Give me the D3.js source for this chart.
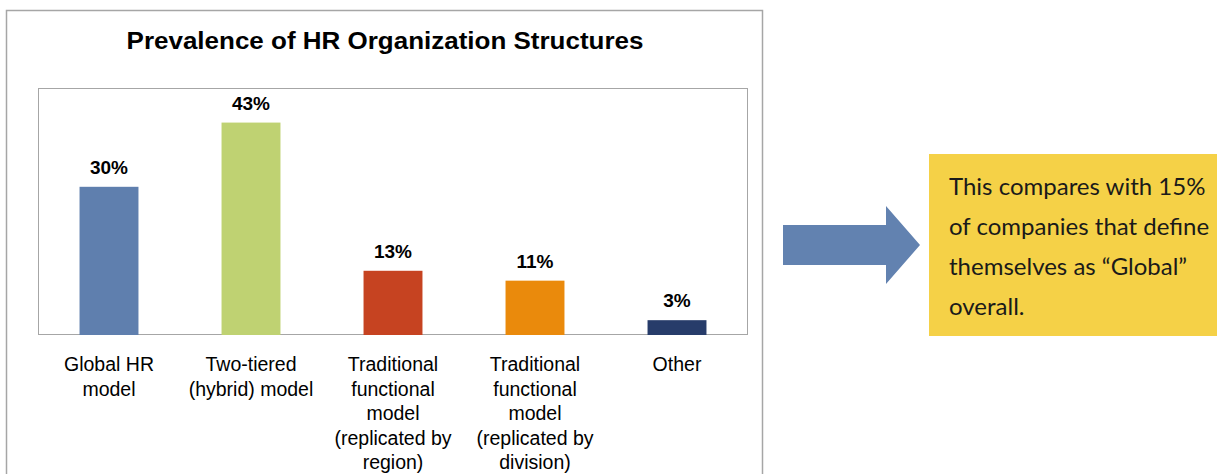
<!DOCTYPE html>
<html><head><meta charset="utf-8">
<script src="https://cdn.jsdelivr.net/npm/d3@7"></script>
<style>body{margin:0;background:#fff}svg{display:block}</style>
</head><body>
<script>
const categories = [
  ["Global HR", "model"],
  ["Two-tiered", "(hybrid) model"],
  ["Traditional", "functional", "model", "(replicated by", "region)"],
  ["Traditional", "functional", "model", "(replicated by", "division)"],
  ["Other"]
];
const values = [30, 43, 13, 11, 3];
const colors = ["#5f7fae", "#bfd272", "#c64321", "#ea8a0c", "#273c6a"];
const calloutLines = ["This compares with 15%", "of companies that define", "themselves as \u201cGlobal\u201d", "overall."];

const W = 1217, H = 474;
const svg = d3.select("body").append("svg").attr("width", W).attr("height", H);

// outer frame
svg.append("rect").attr("x", 6.5).attr("y", 10.5).attr("width", 756).attr("height", 480)
  .attr("fill", "#fff").attr("stroke", "#a6a6a6").attr("stroke-width", 1.5);

svg.append("text").attr("text-anchor", "middle")
  .attr("transform", "translate(385,48.5) scale(1.13,1)")
  .attr("font-family", "Liberation Sans, Arial, sans-serif").attr("font-weight", "bold")
  .attr("font-size", 23).attr("fill", "#000").text("Prevalence of HR Organization Structures");

const plot = {l: 38, t: 88, r: 748, b: 335};
const x = d3.scaleBand().domain(d3.range(values.length)).range([plot.l, plot.r]).paddingInner(0.585).paddingOuter(0.2925);
const y = d3.scaleLinear().domain([0, 50]).range([plot.b, plot.t]);

svg.append("rect").attr("x", plot.l + 0.5).attr("y", plot.t + 0.5)
  .attr("width", plot.r - plot.l - 1).attr("height", plot.b - plot.t - 1)
  .attr("fill", "none").attr("stroke", "#a6a6a6").attr("stroke-width", 1);

svg.selectAll("rect.bar").data(values).join("rect").attr("class", "bar")
  .attr("x", (d, i) => x(i)).attr("width", x.bandwidth())
  .attr("y", d => y(d)).attr("height", d => y(0) - y(d))
  .attr("fill", (d, i) => colors[i]);

svg.selectAll("text.val").data(values).join("text").attr("class", "val")
  .attr("x", (d, i) => x(i) + x.bandwidth() / 2).attr("y", d => y(d) - 13)
  .attr("text-anchor", "middle").attr("font-family", "Liberation Sans, Arial, sans-serif")
  .attr("font-weight", "bold").attr("font-size", 19).attr("fill", "#000")
  .text(d => d + "%");

const cat = svg.selectAll("text.cat").data(categories).join("text").attr("class", "cat")
  .attr("text-anchor", "middle").attr("font-family", "Liberation Sans, Arial, sans-serif")
  .attr("font-size", 19.5).attr("fill", "#000");
cat.each(function(lines, i) {
  d3.select(this).selectAll("tspan").data(lines).join("tspan")
    .attr("x", x(i) + x.bandwidth() / 2).attr("y", (l, j) => 371 + j * 24.5).text(l => l);
});

// arrow
const arrowPts = [[783, 225], [886, 225], [886, 206], [920, 245], [886, 284], [886, 265], [783, 265]];
svg.append("polygon").attr("points", arrowPts.map(p => p.join(",")).join(" ")).attr("fill", "#6282b0");

// callout
svg.append("rect").attr("x", 929).attr("y", 154).attr("width", 290).attr("height", 182).attr("fill", "#f5d147");
svg.append("g").selectAll("text").data(calloutLines).join("text")
  .attr("x", 949).attr("y", (d, i) => 195 + i * 40)
  .attr("font-family", "Lato, sans-serif").attr("font-size", 24).attr("fill", "#1a1a1a")
  .text(d => d);
</script>
</body></html>
